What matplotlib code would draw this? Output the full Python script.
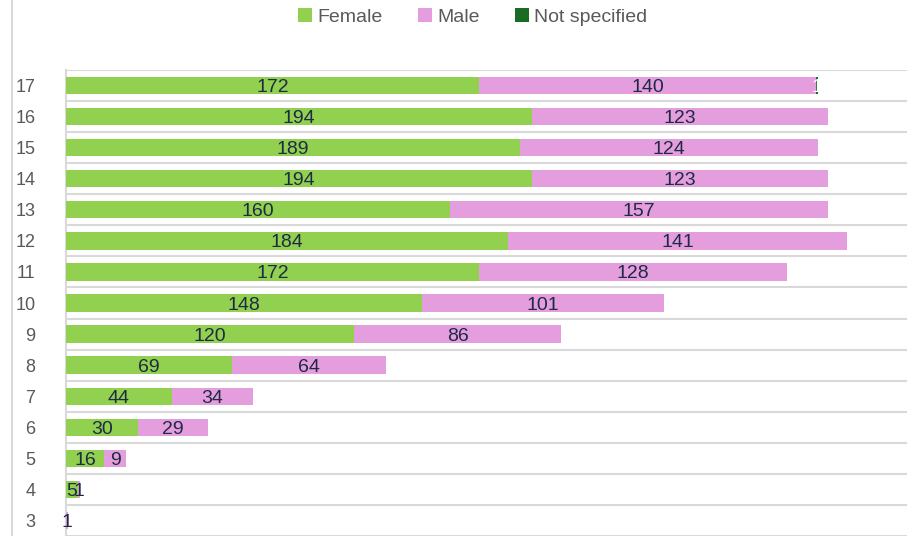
import numpy as np
import matplotlib
matplotlib.use('Agg')
import matplotlib.pyplot as plt
from matplotlib.lines import Line2D

# data (bottom to top)
categories = [3, 4, 5, 6, 7, 8, 9, 10, 11, 12, 13, 14, 15, 16, 17]
female = [0, 5, 16, 30, 44, 69, 120, 148, 172, 184, 160, 194, 189, 194, 172]
male = [1, 1, 9, 29, 34, 64, 86, 101, 128, 141, 157, 123, 124, 123, 140]
not_specified = [0, 0, 0, 0, 0, 0, 0, 0, 0, 0, 0, 0, 0, 0, 1]

series = [("Female", female, '#92d050', '#1f2a44'),
          ("Male", male, '#e49edd', '#1f2a44'),
          ("Not specified", not_specified, '#1a6b23', 'white')]

plt.rcParams['font.family'] = ['Liberation Sans', 'DejaVu Sans']

fig = plt.figure(figsize=(9.11, 5.36), dpi=100)
ax = fig.add_axes([66/911, 0, (907-66)/911, 1 - 70/536])

y = np.arange(len(categories))
left = np.zeros(len(categories))
for name, vals, col, tcol in series:
    vals = np.array(vals)
    ax.barh(y, vals, left=left, height=0.56, color=col, label=name, zorder=3)
    for i, v in enumerate(vals):
        if v > 0:
            ax.text(left[i] + v/2, y[i], str(v), ha='center', va='center_baseline',
                    fontsize=14, color=tcol, zorder=4)
    left = left + vals

ax.set_xlim(0, 350)
ax.set_ylim(-0.33, len(categories) - 0.5)
ax.set_yticks(y)
ax.set_yticklabels([str(c) for c in categories], fontsize=13, color='#595959')
ax.set_yticks(np.arange(len(categories)) - 0.5, minor=True)
ax.tick_params(axis='y', which='both', length=0, pad=22)
ax.set_xticks([])
ax.grid(axis='y', which='minor', color='#d9d9d9', linewidth=1.5, zorder=0)
ax.axhline(len(categories) - 0.5, color='#d9d9d9', linewidth=1.5, zorder=0)
for s in ['top', 'right', 'bottom']:
    ax.spines[s].set_visible(False)
ax.spines['left'].set_color('#d9d9d9')
ax.spines['left'].set_linewidth(1.5)

# chart border on the left
fig.add_artist(Line2D([12/911, 12/911], [0, 1], color='#d9d9d9', linewidth=1.5,
                      transform=fig.transFigure))

handles, labels = ax.get_legend_handles_labels()
fig.legend(handles, labels, loc='center', bbox_to_anchor=(473/911, 1 - 17/536),
           ncol=3, frameon=False, fontsize=14, labelcolor='#595959',
           handlelength=0.7, handleheight=0.7, handletextpad=0.3,
           columnspacing=1.8)

fig.savefig('out.png', dpi=100)
